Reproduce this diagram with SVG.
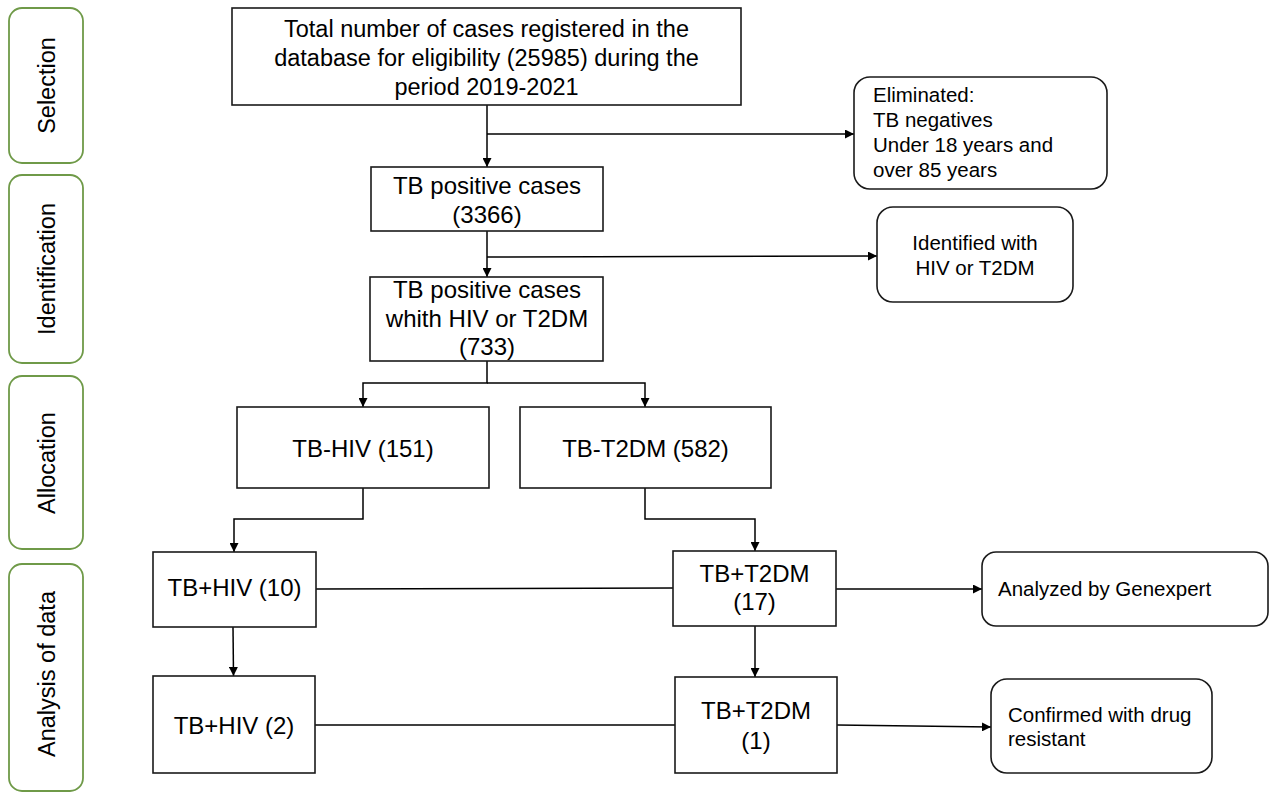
<svg xmlns="http://www.w3.org/2000/svg" width="1271" height="792" viewBox="0 0 1271 792">
<defs>
<style>
.box{fill:#fff;stroke:#1a1a1a;stroke-width:1.6}
.side{fill:#fff;stroke:#6f9a48;stroke-width:1.8}
.t{font-family:"Liberation Sans",Arial,sans-serif;fill:#000}
.b24{font-size:24px;text-anchor:middle}
.top{font-size:23.5px;text-anchor:middle}
.s20{font-size:20.5px}
.sl{font-size:23.5px;text-anchor:middle}
.c{fill:none;stroke:#000;stroke-width:1.5}
</style>
<marker id="ah" viewBox="0 0 10 10" refX="10" refY="5" markerWidth="9" markerHeight="9" markerUnits="userSpaceOnUse" orient="auto">
<path d="M0,0 L10,5 L0,10 z" fill="#000"/>
</marker>
</defs>
<rect width="1271" height="792" fill="#fff"/>

<g id="side-selection"><rect class="side" x="9" y="8" width="74" height="155" rx="13"/><text class="t sl" transform="translate(55,85.5) rotate(-90)">Selection</text></g>
<g id="side-identification"><rect class="side" x="9" y="175" width="74" height="188" rx="13"/><text class="t sl" transform="translate(55,269) rotate(-90)">Identification</text></g>
<g id="side-allocation"><rect class="side" x="9" y="376" width="74" height="173" rx="13"/><text class="t sl" transform="translate(55,463) rotate(-90)">Allocation</text></g>
<g id="side-analysis"><rect class="side" x="9" y="564" width="74" height="227" rx="13"/><text class="t sl" transform="translate(55,674) rotate(-90)">Analysis of data</text></g>

<g id="connectors">
<path class="c" marker-end="url(#ah)" d="M487,105 V167"/>
<path class="c" marker-end="url(#ah)" d="M487,134 H854"/>
<path class="c" marker-end="url(#ah)" d="M487,231 V277"/>
<path class="c" marker-end="url(#ah)" d="M487,257 L877,256"/>
<path class="c" marker-end="url(#ah)" d="M487,361 V383 H363 V407"/>
<path class="c" marker-end="url(#ah)" d="M487,383 H645 V407"/>
<path class="c" marker-end="url(#ah)" d="M363,488 V519 H234 V552"/>
<path class="c" marker-end="url(#ah)" d="M645,488 V519 H755 V551"/>
<path class="c" d="M316,589 L673,588"/>
<path class="c" marker-end="url(#ah)" d="M836,589 H982"/>
<path class="c" marker-end="url(#ah)" d="M233,627 L233.5,676"/>
<path class="c" marker-end="url(#ah)" d="M755,626 V677"/>
<path class="c" d="M315,725 H675"/>
<path class="c" marker-end="url(#ah)" d="M837,725 L991,727"/>
</g>

<g id="n-total"><rect class="box" x="232" y="8" width="509" height="97"/>
<text class="t top" x="486.5" y="37">Total number of cases registered in the</text>
<text class="t top" x="486.5" y="66">database for eligibility (25985) during the</text>
<text class="t top" x="486.5" y="95">period 2019-2021</text></g>

<g id="n-eliminated"><rect class="box" x="854" y="77" width="253" height="112" rx="16"/>
<text class="t s20" x="873" y="102">Eliminated:</text>
<text class="t s20" x="873" y="127">TB negatives</text>
<text class="t s20" x="873" y="152">Under 18 years and</text>
<text class="t s20" x="873" y="177">over 85 years</text></g>

<g id="n-tbpos"><rect class="box" x="371" y="167" width="232" height="64"/>
<text class="t b24" x="487" y="194">TB positive cases</text>
<text class="t b24" x="487" y="223">(3366)</text></g>

<g id="n-identified"><rect class="box" x="877" y="207" width="196" height="95" rx="16"/>
<text class="t s20" x="975" y="250" text-anchor="middle">Identified with</text>
<text class="t s20" x="975" y="275" text-anchor="middle">HIV or T2DM</text></g>

<g id="n-733"><rect class="box" x="370" y="277" width="233" height="84"/>
<text class="t b24" x="487" y="298">TB positive cases</text>
<text class="t b24" x="487" y="327">whith HIV or T2DM</text>
<text class="t b24" x="487" y="355">(733)</text></g>

<g id="n-tbhiv"><rect class="box" x="237" y="407" width="252" height="81"/>
<text class="t b24" x="363" y="457">TB-HIV (151)</text></g>

<g id="n-tbt2dm"><rect class="box" x="520" y="407" width="251" height="81"/>
<text class="t b24" x="645.5" y="457">TB-T2DM (582)</text></g>

<g id="n-hiv10"><rect class="box" x="153" y="552" width="163" height="75"/>
<text class="t b24" x="234.5" y="596">TB+HIV (10)</text></g>

<g id="n-t2dm17"><rect class="box" x="673" y="551" width="163" height="75"/>
<text class="t b24" x="754.5" y="582">TB+T2DM</text>
<text class="t b24" x="754.5" y="610">(17)</text></g>

<g id="n-analyzed"><rect class="box" x="982" y="552" width="286" height="74" rx="14"/>
<text class="t s20" x="998" y="596">Analyzed by Genexpert</text></g>

<g id="n-hiv2"><rect class="box" x="153" y="676" width="162" height="97"/>
<text class="t b24" x="234" y="734">TB+HIV (2)</text></g>

<g id="n-t2dm1"><rect class="box" x="675" y="677" width="162" height="96"/>
<text class="t b24" x="756" y="719">TB+T2DM</text>
<text class="t b24" x="756" y="749">(1)</text></g>

<g id="n-confirmed"><rect class="box" x="991" y="679" width="221" height="94" rx="16"/>
<text class="t s20" x="1008" y="722">Confirmed with drug</text>
<text class="t s20" x="1008" y="746">resistant</text></g>
</svg>
